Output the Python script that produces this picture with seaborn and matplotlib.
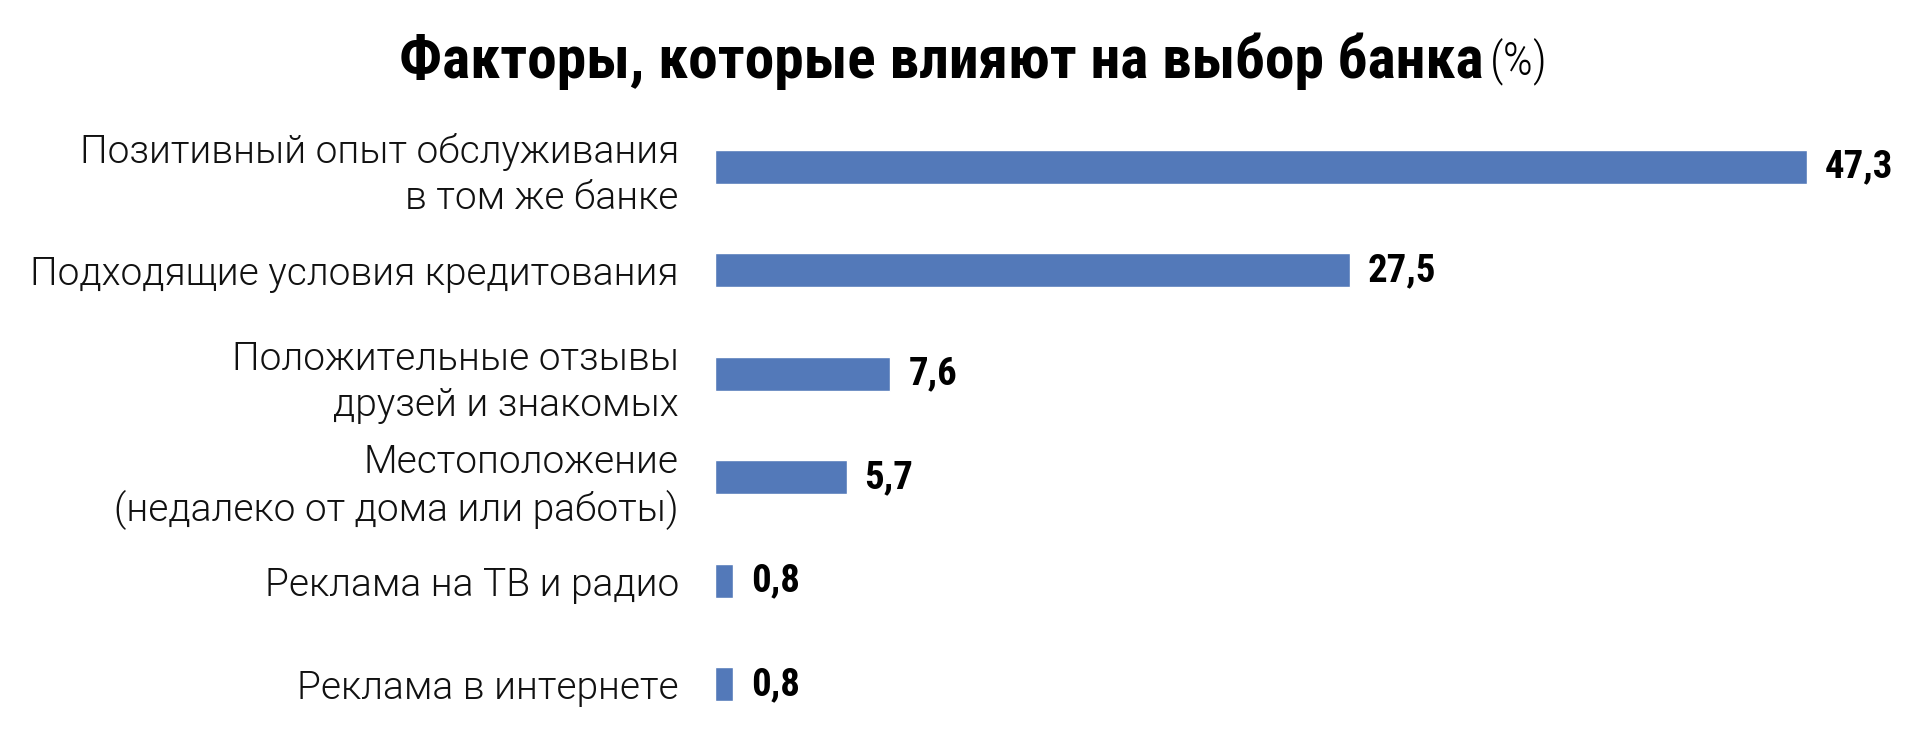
import matplotlib
matplotlib.use("Agg")
import matplotlib.pyplot as plt
import seaborn as sns

# Data
factors = [
    "Позитивный опыт обслуживания\nв том же банке",
    "Подходящие условия кредитования",
    "Положительные отзывы\nдрузей и знакомых",
    "Местоположение\n(недалеко от дома или работы)",
    "Реклама на ТВ и радио",
    "Реклама в интернете",
]
shares = [47.3, 27.5, 7.6, 5.7, 0.8, 0.8]
title_main = "Факторы, которые влияют на выбор банка"
title_unit = "(%)"

sns.set_style("white")
plt.rcParams['font.family'] = ['Roboto', 'DejaVu Sans']

fig = plt.figure(figsize=(19.26, 7.33), dpi=100)
ax = fig.add_axes([0.3712, 0.0, 0.5993, 0.843])

sns.barplot(x=shares, y=factors, color="#5379B9", saturation=1, width=0.33,
            orient="h", ax=ax)
ax.set_xlim(0, 50)
ax.set_ylim(5.47, -0.5)

# value labels with decimal comma
ax.bar_label(ax.containers[0], labels=[f"{v:.1f}".replace(".", ",") for v in shares],
             padding=13, fontsize=28, fontweight="bold",
             family=["Roboto Condensed", "DejaVu Sans"], color="black")

for s in ax.spines.values():
    s.set_visible(False)
ax.set_xticks([])
ax.set_xlabel("")
ax.set_ylabel("")
ax.tick_params(axis="y", length=0, pad=26)
for lbl in ax.get_yticklabels():
    lbl.set_fontsize(28)
    lbl.set_fontweight(300)
    lbl.set_linespacing(1.3)
    lbl.set_color("#111111")

# title: bold part + light "(%)"
fig.text(0.770, 0.917, title_main, ha="right", va="center", fontsize=42.8,
         fontweight="bold", family=["Roboto Condensed", "DejaVu Sans"], color="black")
fig.text(0.7736, 0.917, title_unit, ha="left", va="center", fontsize=34,
         fontweight=300, family=["Roboto Condensed", "DejaVu Sans"], color="black")

plt.savefig("out.png", dpi=100)
